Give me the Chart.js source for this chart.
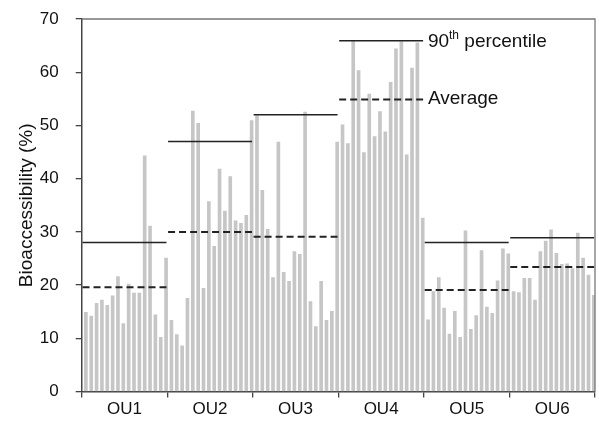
<!DOCTYPE html>
<html>
<head>
<meta charset="utf-8">
<script src="https://cdn.jsdelivr.net/npm/chart.js@4/dist/chart.umd.min.js"></script>
<style>
  html, body { margin: 0; padding: 0; background: #fff; }
  #wrap { width: 599px; height: 422px; }
</style>
</head>
<body>
<div id="wrap"><canvas id="bar-chart" width="599" height="422"></canvas></div>
<script>
// groups and per-sample bioaccessibility (%), 16 samples per group
var groups = ["OU1", "OU2", "OU3", "OU4", "OU5", "OU6"];
var ou1 = [14.9, 14.2, 16.6, 17.2, 16.2, 18.0, 21.6, 12.8, 20.2, 18.5, 18.5, 44.3, 31.1, 14.4, 10.2, 25.1];
var ou2 = [13.4, 10.7, 8.6, 17.5, 52.7, 50.4, 19.4, 35.7, 27.3, 41.8, 33.9, 40.4, 32.1, 31.6, 33.1, 50.9];
var ou3 = [51.8, 37.8, 30.5, 21.4, 46.9, 22.4, 20.7, 26.3, 25.8, 52.5, 16.9, 12.2, 20.7, 13.4, 15.1, 46.9];
var ou4 = [50.1, 46.6, 66.0, 60.3, 44.9, 55.9, 47.9, 52.6, 48.8, 58.1, 64.4, 65.7, 44.5, 60.8, 65.5, 32.6];
var ou5 = [13.5, 18.8, 21.4, 15.7, 10.8, 15.1, 10.2, 30.2, 11.7, 14.3, 26.5, 15.9, 14.7, 20.8, 26.8, 25.9];
var ou6 = [18.8, 18.6, 21.3, 21.3, 17.2, 26.3, 28.3, 30.4, 26.0, 23.9, 24.0, 23.1, 29.8, 25.1, 21.9, 18.1];
var p90 = [28.0, 47.0, 52.0, 65.9, 28.0, 28.9];
var avg = [19.6, 30.0, 29.1, 54.9, 19.1, 23.4];
var yTicks = [0, 10, 20, 30, 40, 50, 60, 70];

var values = [].concat(ou1, ou2, ou3, ou4, ou5, ou6);
var perGroup = ou1.length;
var labels = values.map(function(v, i){ return "s" + (i + 1); });

// one segment per group, separated by gaps
function segments(arr){
  var pts = [];
  arr.forEach(function(v, g){
    pts.push({x: g * perGroup + 0.15, y: v});
    pts.push({x: g * perGroup + perGroup - 0.15, y: v});
    pts.push({x: g * perGroup + perGroup - 0.1, y: null});
  });
  return pts;
}

var framePlugin = {
  id: "frame",
  afterDraw: function(chart){
    var ctx = chart.ctx, a = chart.chartArea;
    ctx.save();
    ctx.strokeStyle = "#777";
    ctx.lineWidth = 1.3;
    ctx.beginPath();
    ctx.moveTo(a.left, a.top);
    ctx.lineTo(a.right, a.top);
    ctx.lineTo(a.right, a.bottom);
    ctx.stroke();

    // labels next to the OU4 lines
    var xl = chart.scales.xl, y = chart.scales.y;
    var x0 = xl.getPixelForValue(4 * perGroup) + 4;
    ctx.fillStyle = "#111";
    ctx.textBaseline = "middle";
    ctx.textAlign = "left";
    var yp = y.getPixelForValue(p90[3]) + 1;
    ctx.font = "19px 'Liberation Sans', Arial, sans-serif";
    ctx.fillText("90", x0, yp);
    var w = ctx.measureText("90").width;
    ctx.font = "12px 'Liberation Sans', Arial, sans-serif";
    ctx.fillText("th", x0 + w, yp - 6);
    var w2 = ctx.measureText("th").width;
    ctx.font = "19px 'Liberation Sans', Arial, sans-serif";
    ctx.fillText(" percentile", x0 + w + w2, yp);
    ctx.fillText("Average", x0, y.getPixelForValue(avg[3]) - 1);
    ctx.restore();
  }
};

new Chart(document.getElementById("bar-chart"), {
  type: "bar",
  data: {
    labels: labels,
    datasets: [{
      type: "line",
      label: "90th percentile",
      xAxisID: "xl",
      data: segments(p90),
      borderColor: "#222",
      borderWidth: 1.5,
      pointRadius: 0,
      spanGaps: false,
      fill: false
    }, {
      type: "line",
      label: "Average",
      xAxisID: "xl",
      data: segments(avg),
      borderColor: "#222",
      borderWidth: 2,
      borderDash: [7, 4],
      pointRadius: 0,
      spanGaps: false,
      fill: false
    }, {
      label: "Bioaccessibility",
      xAxisID: "x",
      data: values,
      backgroundColor: "#c6c6c6",
      barThickness: 3
    }]
  },
  options: {
    responsive: false,
    animation: false,
    layout: { padding: { top: 0, right: 4, left: 4, bottom: 0 } },
    plugins: {
      legend: { display: false },
      tooltip: { enabled: false }
    },
    scales: {
      x: { type: "category", display: false, offset: true },
      xl: { type: "linear", display: false, offset: false, bounds: "ticks", min: 0, max: values.length },
      xg: {
        type: "category",
        position: "bottom",
        labels: groups,
        offset: true,
        grid: { offset: true, drawOnChartArea: false, tickLength: 6, color: "#444", lineWidth: 1.3 },
        border: { display: true, color: "#444", width: 1.5 },
        ticks: { color: "#111", padding: 2, font: { size: 17, family: "'Liberation Sans', Arial, sans-serif" } }
      },
      y: {
        min: 0,
        max: 70,
        afterBuildTicks: function(axis){ axis.ticks = yTicks.map(function(v){ return {value: v}; }); },
        afterFit: function(axis){ axis.paddingTop = 19; },
        grid: { drawOnChartArea: false, tickLength: 6, color: "#444", lineWidth: 1.3 },
        border: { display: true, color: "#444", width: 1.5 },
        ticks: { color: "#111", padding: 17, font: { size: 17, family: "'Liberation Sans', Arial, sans-serif" } },
        title: {
          display: true,
          text: "Bioaccessibility (%)",
          color: "#111",
          padding: { top: 11, bottom: -15 },
          font: { size: 19, family: "'Liberation Sans', Arial, sans-serif" }
        }
      }
    }
  },
  plugins: [framePlugin]
});
</script>
</body>
</html>
